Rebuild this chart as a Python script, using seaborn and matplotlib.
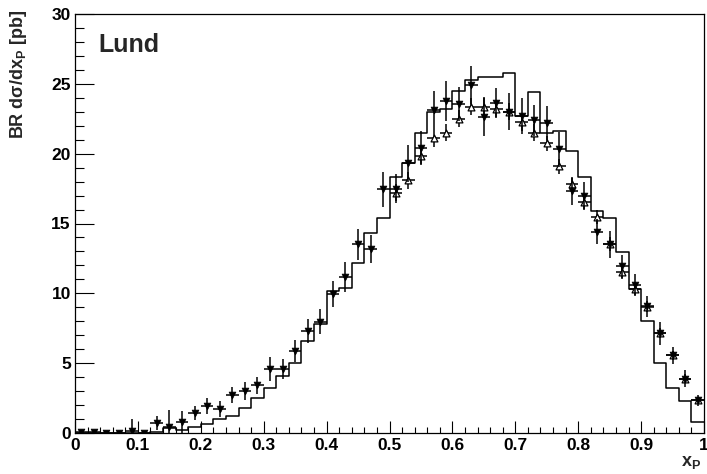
import numpy as np
import pandas as pd
import seaborn as sns
import matplotlib
matplotlib.use("Agg")
import matplotlib.pyplot as plt
from matplotlib.ticker import MultipleLocator, FuncFormatter

# ---------------- data ----------------
bin_edges = [round(v, 2) for v in np.linspace(0.0, 1.0, 51)]
bin_centers = [0.01, 0.03, 0.05, 0.07, 0.09, 0.11, 0.13, 0.15, 0.17, 0.19,
               0.21, 0.23, 0.25, 0.27, 0.29, 0.31, 0.33, 0.35, 0.37, 0.39,
               0.41, 0.43, 0.45, 0.47, 0.49, 0.51, 0.53, 0.55, 0.57, 0.59,
               0.61, 0.63, 0.65, 0.67, 0.69, 0.71, 0.73, 0.75, 0.77, 0.79,
               0.81, 0.83, 0.85, 0.87, 0.89, 0.91, 0.93, 0.95, 0.97, 0.99]

# Lund MC histogram
lund_hist = [0.0, 0.0, 0.0, 0.0, 0.0, 0.02, 0.08, 0.35, 0.22, 0.45,
             0.64, 1.0, 1.24, 1.8, 2.48, 3.25, 4.08, 5.03, 6.6, 7.8,
             10.16, 10.36, 12.15, 14.3, 15.37, 18.35, 19.3, 21.45, 23.0, 23.2,
             24.5, 25.3, 25.5, 25.5, 25.8, 22.7, 24.4, 21.45, 21.6, 20.2,
             18.35, 15.9, 15.37, 12.95, 10.33, 8.0, 5.0, 3.2, 2.27, 0.78]

# filled (downward) triangles
filled_y = [0.05, 0.05, 0.0, 0.0, 0.15, 0.0, 0.69, 0.45, 0.79, 1.41,
            1.93, 1.74, 2.7, 3.0, 3.41, 4.56, 4.6, 5.87, 7.3, 7.97,
            9.95, 11.15, 13.5, 13.2, 17.45, 17.5, 19.3, 20.4, 23.1, 23.8,
            23.55, 24.9, 22.64, 23.6, 23.0, 22.7, 22.4, 22.2, 20.3, 17.3,
            17.0, 14.4, 13.5, 11.93, 10.6, 9.07, 7.14, 5.55, 3.9, 2.33]
filled_err = [0.1, 0.1, 0.1, 0.1, 0.85, 0.15, 0.5, 1.2, 0.78, 0.5,
              0.6, 0.56, 0.57, 0.62, 0.6, 0.87, 0.72, 0.78, 0.88, 0.9,
              0.95, 1.07, 1.1, 1.0, 1.25, 1.05, 1.3, 1.2, 1.4, 1.43,
              1.2, 1.37, 1.4, 1.07, 1.34, 1.3, 1.1, 1.2, 1.25, 0.95,
              1.0, 0.9, 0.95, 0.83, 0.77, 0.77, 0.83, 0.6, 0.6, 0.4]

# open (upward) triangles
open_x = [0.51, 0.53, 0.55, 0.57, 0.59, 0.61, 0.63, 0.65, 0.67, 0.69,
          0.71, 0.73, 0.75, 0.77, 0.79, 0.81, 0.83, 0.85, 0.87, 0.89,
          0.91, 0.93, 0.95, 0.97, 0.99]
open_y = [17.2, 18.1, 19.85, 21.1, 21.5, 22.5, 23.36, 23.36, 23.2, 23.0,
          22.24, 21.5, 20.74, 19.1, 17.8, 16.55, 15.44, 13.5, 11.5, 10.3,
          9.05, 7.14, 5.55, 3.9, 2.33]
open_err = [0.6, 0.6, 0.6, 0.6, 0.6, 0.6, 0.6, 0.6, 0.6, 0.6,
            0.6, 0.6, 0.55, 0.55, 0.55, 0.5, 0.5, 0.5, 0.45, 0.45,
            0.4, 0.35, 0.3, 0.3, 0.25]

x_ticks = [0, 0.1, 0.2, 0.3, 0.4, 0.5, 0.6, 0.7, 0.8, 0.9, 1.0]
y_ticks = [0, 5, 10, 15, 20, 25, 30]
bin_halfwidth = 0.01

hist_df = pd.DataFrame({"xp": bin_centers, "w": lund_hist})
filled_df = pd.DataFrame({"xp": bin_centers, "y": filled_y, "err": filled_err})
open_df = pd.DataFrame({"xp": open_x, "y": open_y, "err": open_err})

# ---------------- style ----------------
sns.set_theme(style="white")
plt.rcParams['font.family'] = ['Liberation Sans', 'DejaVu Sans']
plt.rcParams['font.weight'] = 'bold'
plt.rcParams['mathtext.fontset'] = 'custom'
plt.rcParams['mathtext.rm'] = 'Liberation Sans:bold'
plt.rcParams['mathtext.it'] = 'Liberation Sans:bold'
plt.rcParams['mathtext.bf'] = 'Liberation Sans:bold'

W, H = 707, 474
fig = plt.figure(figsize=(W / 100, H / 100), dpi=100)
ax = fig.add_axes([75 / W, 1 - 433 / H, 629 / W, 419 / H])
ax.set_facecolor("white")

# histogram
sns.histplot(data=hist_df, x="xp", weights="w", bins=bin_edges, element="step",
             fill=False, color="black", linewidth=1.1, ax=ax, zorder=2)

# open triangles
ax.errorbar(open_df["xp"], open_df["y"], xerr=bin_halfwidth, yerr=open_df["err"],
            fmt="none", ecolor="black", elinewidth=1.1, capsize=0, zorder=3)
sns.scatterplot(data=open_df, x="xp", y="y", marker="^", s=24, color="white",
                edgecolor="black", linewidth=0.9, ax=ax, zorder=4)

# filled triangles
ax.errorbar(filled_df["xp"], filled_df["y"], xerr=bin_halfwidth, yerr=filled_df["err"],
            fmt="none", ecolor="black", elinewidth=1.1, capsize=0, zorder=5)
sns.scatterplot(data=filled_df, x="xp", y="y", marker="v", s=24, color="black",
                edgecolor="black", linewidth=0.5, ax=ax, zorder=6)

# axes
ax.set_xlim(0, 1)
ax.set_ylim(0, 30)
ax.set_xlabel("")
ax.set_ylabel("")
ax.set_xticks(x_ticks)
ax.set_yticks(y_ticks)
ax.xaxis.set_minor_locator(MultipleLocator(0.02))
ax.yaxis.set_minor_locator(MultipleLocator(1))
fmt = FuncFormatter(lambda v, p: "%g" % round(v, 2))
ax.xaxis.set_major_formatter(fmt)
ax.yaxis.set_major_formatter(fmt)
ax.tick_params(which="both", direction="in", top=False, right=False,
               bottom=True, left=True, color="black", width=0.8,
               labelsize=12.5, labelcolor="black")
ax.tick_params(axis="x", which="major", length=9, pad=3.5)
ax.tick_params(axis="x", which="minor", length=4.5)
ax.tick_params(axis="y", which="major", length=13.7, pad=3)
ax.tick_params(axis="y", which="minor", length=6.8)
for lab in ax.get_xticklabels() + ax.get_yticklabels():
    lab.set_fontweight("bold")
for s in ax.spines.values():
    s.set_visible(True)
    s.set_color("black")
    s.set_linewidth(0.9)
ax.grid(False)

fig.text(98 / W, 1 - 52 / H, "Lund", fontsize=18, fontweight="bold",
         ha="left", va="baseline")
fig.text(701 / W, 1 - 466 / H, r"x$_{\mathrm{P}}$", fontsize=13, fontweight="bold",
         ha="right", va="baseline")
fig.text(19 / W, 1 - 10 / H, r"BR d$\sigma$/dx$_{\mathrm{P}}$ [pb]", fontsize=13,
         fontweight="bold", rotation=90, ha="center", va="top")

fig.savefig("out.png", dpi=100, facecolor="white")
